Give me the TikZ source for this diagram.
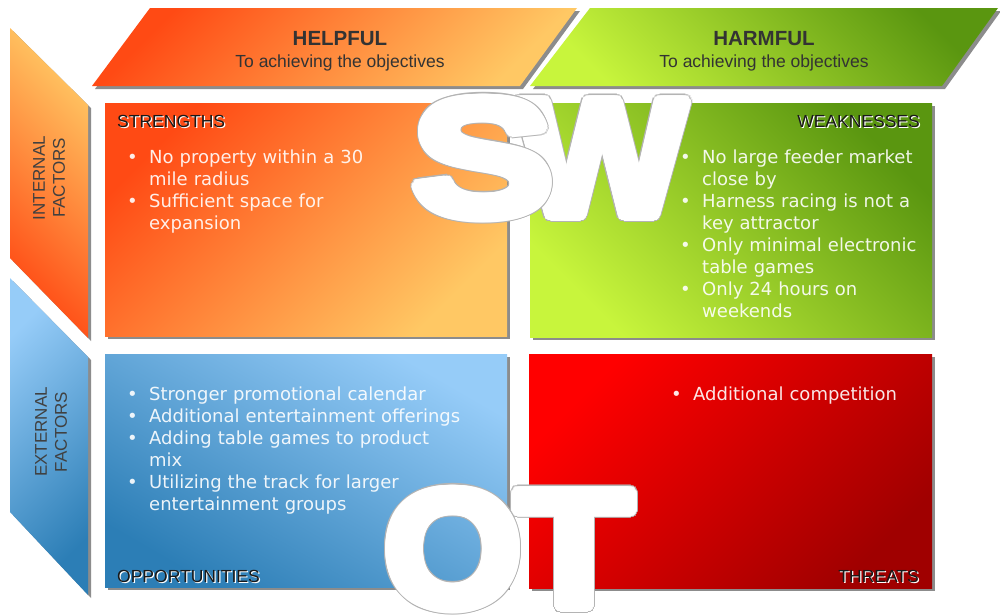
\documentclass[tikz,border=0pt]{standalone}
\usepackage{fontspec}
\setmainfont{Liberation Sans}
\newfontfamily\listfont{DejaVu Sans}
\usetikzlibrary{calc}
\setlength\parskip{0pt}

\definecolor{orDeep}{HTML}{FF4A14}
\definecolor{orLight}{HTML}{FFC864}
\definecolor{grDark}{HTML}{5A9610}
\definecolor{grBright}{HTML}{C8F53C}
\definecolor{blLight}{HTML}{96CCF8}
\definecolor{blDark}{HTML}{2C7EB6}
\definecolor{rdBright}{HTML}{FF0000}
\definecolor{rdDark}{HTML}{A00000}
\definecolor{shadowgray}{HTML}{8C8C8C}
\definecolor{edgegray}{HTML}{B4B4B4}

\tikzset{
  panelshadow/.style={fill=shadowgray},
  bigletter/.style={anchor=base west, inner sep=0pt, font=\fontsize{165}{165}\selectfont\bfseries},
  cornerlabel/.style={inner sep=0pt, font=\fontsize{17.5}{20}\selectfont, text=black!90},
  labelglow/.style={inner sep=0pt, font=\fontsize{17.5}{20}\selectfont, text=white},
  bulletlist/.style={anchor=north west, inner sep=0pt, text width=360pt,
    font=\listfont\fontsize{18}{22}\selectfont, text=white, text opacity=0.9},
  headtitle/.style={anchor=base, inner sep=0pt, font=\bfseries\fontsize{20.5}{24}\selectfont, text=black!80},
  headsub/.style={anchor=base, inner sep=0pt, font=\fontsize{17.5}{20}\selectfont, text=black!80},
  sidelabel/.style={inner sep=0pt, font=\fontsize{17}{20}\selectfont, text=black!75, align=center, rotate=90},
}

% one bullet item with a hanging indent
\newcommand\bitem[1]{\par\hangindent=22pt\hangafter=1\noindent\makebox[22pt][l]{\textbullet}#1\par}

% a heavy white letter with a thin grey rim
\newcommand\heavyglyph[4]{%
  \foreach \ang in {0,15,...,345}{\node[bigletter, text=edgegray, xscale=#3] (#1edge\ang) at ($(#2)+(\ang:7.2)$) {#4};}
  \foreach \ang in {0,15,...,345}{\node[bigletter, text=white, xscale=#3] (#1fill\ang) at ($(#2)+(\ang:6)$) {#4};}
  \node[bigletter, text=white, xscale=#3] (#1) at (#2) {#4};}

\begin{document}
\begin{tikzpicture}[x=1pt, y=-1pt]
\useasboundingbox (0,0) rectangle (1000,614);
\fill[white] (0,0) rectangle (1000,614);

% column headers
\fill[panelshadow] (153,11) -- (580,11) -- (523,89) -- (95,89) -- cycle;
\shade[top color=orDeep, bottom color=orLight, shading angle=45]
  (150,8) -- (577,8) -- (520,86) -- (92,86) -- cycle;
\fill[panelshadow] (593,11) -- (1001,11) -- (945,89) -- (533,89) -- cycle;
\shade[top color=grDark, bottom color=grBright, shading angle=-45]
  (590,8) -- (998,8) -- (942,86) -- (530,86) -- cycle;

% row headers
\fill[panelshadow] (13,31) -- (91,108) -- (91,341) -- (13,261) -- cycle;
\shade[top color=orLight, bottom color=orDeep, shading angle=-45]
  (10,28) -- (88,105) -- (88,338) -- (10,258) -- cycle;
\fill[panelshadow] (13,281) -- (91,360) -- (91,598) -- (13,515) -- cycle;
\shade[top color=blLight, bottom color=blDark, shading angle=45]
  (10,278) -- (88,357) -- (88,595) -- (10,512) -- cycle;

% quadrants
\fill[panelshadow] (108,106) rectangle (510,339);
\shade[top color=orDeep, bottom color=orLight, shading angle=45] (105,103) rectangle (507,336);
\fill[panelshadow] (533,106) rectangle (935,340);
\shade[top color=grDark, bottom color=grBright, shading angle=-45] (530,103) rectangle (932,337);
\fill[panelshadow] (108,357) rectangle (510,590);
\shade[top color=blLight, bottom color=blDark, shading angle=-30] (105,354) rectangle (507,587);
\fill[panelshadow] (532,357) rectangle (935,591);
\shade[top color=rdBright, bottom color=rdDark, shading angle=45] (529,354) rectangle (932,588);

% header texts
\node[headtitle] (helpTitle) at (340,45) {HELPFUL};
\node[headsub] (helpSub) at (340,67) {To achieving the objectives};
\node[headtitle] (harmTitle) at (764,45) {HARMFUL};
\node[headsub] (harmSub) at (764,67) {To achieving the objectives};

\node[sidelabel] (internal) at (49,178) {INTERNAL\\FACTORS};
\node[sidelabel] (external) at (51,432) {EXTERNAL\\FACTORS};

% quadrant titles
\node[labelglow, anchor=base west] (strGlow) at (118.2,128.2) {STRENGTHS};
\node[cornerlabel, anchor=base west] (strLabel) at (117,127) {STRENGTHS};
\node[labelglow, anchor=base east] (weakGlow) at (921.2,128.2) {WEAKNESSES};
\node[cornerlabel, anchor=base east] (weakLabel) at (920,127) {WEAKNESSES};
\node[labelglow, anchor=base west] (oppGlow) at (118.2,583.2) {OPPORTUNITIES};
\node[cornerlabel, anchor=base west] (oppLabel) at (117,582) {OPPORTUNITIES};
\node[labelglow, anchor=base east] (thrGlow) at (920.2,583.2) {THREATS};
\node[cornerlabel, anchor=base east] (thrLabel) at (919,582) {THREATS};

% bullet lists
\node[bulletlist] (strList) at (127,141.3) {%
  \bitem{No property within a 30\newline mile radius}%
  \bitem{Sufficient space for\newline expansion}};
\node[bulletlist] (weakList) at (680,141.3) {%
  \bitem{No large feeder market\newline close by}%
  \bitem{Harness racing is not a\newline key attractor}%
  \bitem{Only minimal electronic\newline table games}%
  \bitem{Only 24 hours on\newline weekends}};
\node[bulletlist] (oppList) at (127,378.3) {%
  \bitem{Stronger promotional calendar}%
  \bitem{Additional entertainment offerings}%
  \bitem{Adding table games to product\newline mix}%
  \bitem{Utilizing the track for larger\newline entertainment groups}};
\node[bulletlist] (thrList) at (671,378.3) {%
  \bitem{Additional competition}};

% the big initials
\heavyglyph{letterW}{519,215}{1.07}{W}
\heavyglyph{letterS}{411,215}{1.3}{S}
\heavyglyph{letterT}{515,606}{1.17}{T}
\heavyglyph{letterO}{384,606}{1.07}{O}
\end{tikzpicture}
\end{document}
